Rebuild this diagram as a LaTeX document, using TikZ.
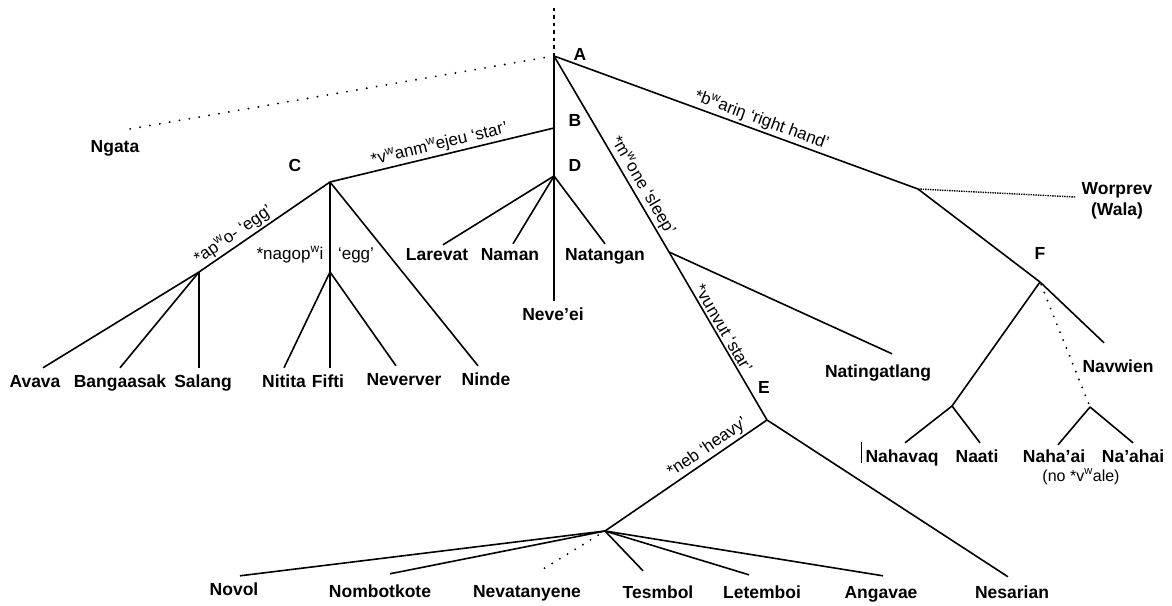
\documentclass[tikz,border=0pt]{standalone}
\usepackage{fontspec}
\setmainfont{Liberation Sans}
\usepackage{tikz}
\newcommand{\wsup}{\textsuperscript{w}}
\tikzset{leaf/.style={font=\bfseries\fontsize{17.5}{17.5}\selectfont, anchor=base,
   inner xsep=1pt, inner ysep=7pt, text height=12pt, text depth=3.5pt},
 letter/.style={font=\bfseries\fontsize{17.5}{17.5}\selectfont, inner sep=0pt},
 gloss/.style={font=\fontsize{17}{17}\selectfont, sloped, above, inner sep=2pt},
 remark/.style={font=\fontsize{17}{17}\selectfont, anchor=base, inner sep=0pt},
 branch/.style={line width=1.6pt},
 dotline/.style={line width=2.1pt, line cap=round, dash pattern=on 0pt off #1},
 dotline/.default=9pt,
 }

\begin{document}
\begin{tikzpicture}[x=1pt,y=-1pt]
        \useasboundingbox (0,0) rectangle (1172,605);
        % junctions
        \coordinate (top) at (554,5);
        \coordinate (A) at (554,56);
        \coordinate (B) at (554,128);
        \coordinate (D) at (554,176);
        \coordinate (C) at (330,182);
        \coordinate (pw) at (199,272);
        \coordinate (ng) at (330,272);
        \coordinate (sl) at (669,252);
        \coordinate (E) at (767,420);
        \coordinate (hv) at (605,531);
        \coordinate (wp) at (918,189);
        \coordinate (F) at (1040,282);
        \coordinate (nq) at (952,406);
        \coordinate (nh) at (1090,407);
        % subgroup letters
        \node[letter] (tA) at (580,54) {A};
        \node[letter] (tB) at (575,120) {B};
        \node[letter] (tC) at (295,165) {C};
        \node[letter] (tD) at (575,165) {D};
        \node[letter] (tE) at (764,387) {E};
        \node[letter] (tF) at (1040,253) {F};
        % languages
        \node[leaf] (Ngata) at (115,152) {Ngata};
        \node[leaf] (Avava) at (35,387) {Avava};
        \node[leaf] (Bangaasak) at (120,387) {Bangaasak};
        \node[leaf] (Salang) at (203,387) {Salang};
        \node[leaf] (Nitita) at (284,387) {Nitita};
        \node[leaf] (Fifti) at (328,387) {Fifti};
        \node[leaf] (Neverver) at (404,385) {Neverver};
        \node[leaf] (Ninde) at (486,385) {Ninde};
        \node[leaf] (Larevat) at (437,260) {Larevat};
        \node[leaf] (Naman) at (510,260) {Naman};
        \node[leaf] (Natangan) at (605,260) {Natangan};
        \node[leaf] (Neveei) at (553,320) {Neve’ei};
        \node[leaf] (Natingatlang) at (878,377) {Natingatlang};
        \node[font=\bfseries\fontsize{17.5}{21}\selectfont, align=center, inner xsep=6pt] (Worprev) at (1117,201) {Worprev\\(Wala)};
        \node[leaf] (Navwien) at (1118,372) {Navwien};
        \node[leaf] (Nahavaq) at (902,462) {Nahavaq};
        \node[leaf] (Naati) at (977,462) {Naati};
        \node[leaf] (Nahaai) at (1054,462) {Naha’ai};
        \node[leaf] (Naahai) at (1133,462) {Na’ahai};
        \node[remark, font=\fontsize{16}{16}\selectfont] (noVwale) at (1081,481) {(no *v\wsup ale)};
        \node[leaf] (Novol) at (234,595) {Novol};
        \node[leaf] (Nombotkote) at (380,597) {Nombotkote};
        \node[leaf] (Nevatanyene) at (527,597) {Nevatanyene};
        \node[leaf] (Tesmbol) at (658,598) {Tesmbol};
        \node[leaf] (Letemboi) at (762,598) {Letemboi};
        \node[leaf] (Angavae) at (881,598) {Angavae};
        \node[leaf] (Nesarian) at (1012,598) {Nesarian};
        \node[remark] (nagopwi) at (290,259) {*nagop\wsup i};
        \node[remark] (eggC) at (356,259) {‘egg’};
        % tree
        \draw [branch, dash pattern=on 3.5pt off 4pt] (A) -- (top);
        \draw [dotline=10pt] (A) -- ([xshift=10pt,yshift=3pt]Ngata.north);
        \draw [branch] (A) -- (A |- Neveei.north);
        \draw [branch] (C) -- node[gloss] (gStar) {*v\wsup anm\wsup ejeu ‘star’} (B);
        \draw [branch] (pw) -- node[gloss, pos=0.31] (gEgg) {*ap\wsup o- ‘egg’} (C);
        \draw [branch] (pw) -- ([xshift=8pt]Avava.north);
        \draw [branch] (pw) -- (Bangaasak.north);
        \draw [branch] (pw) -- (pw |- Salang.north);
        \draw [branch] (C) -- (ng);
        \draw [branch] (ng) -- (Nitita.north);
        \draw [branch] (ng) -- (ng |- Fifti.north);
        \draw [branch] (ng) -- ([xshift=-8pt]Neverver.north);
        \draw [branch] (C) -- ([xshift=-8pt]Ninde.north);
        \draw [branch] (D) -- ([xshift=6pt,yshift=-4pt]Larevat.north);
        \draw [branch] (D) -- ([xshift=3pt,yshift=-3pt]Naman.north);
        \draw [branch] (D) -- ([yshift=-3pt]Natangan.north);
        \draw [branch] (A) -- node[gloss, pos=0.69] (gSleep) {*m\wsup one ‘sleep’} (sl);
        \draw [branch] (sl) -- node[gloss, pos=0.48] (gVunvut) {*vunvut ‘star’} (E);
        \draw [branch] (sl) -- ([xshift=14pt,yshift=4pt]Natingatlang.north);
        \draw [branch] (hv) -- node[gloss, pos=0.67] (gHeavy) {*neb ‘heavy’} (E);
        \draw [branch] (E) -- ([xshift=-4pt,yshift=2pt]Nesarian.north);
        \draw [branch] (hv) -- ([xshift=6pt]Novol.north);
        \draw [branch] (hv) -- ([xshift=10pt,yshift=4pt]Nombotkote.north);
        \draw [dotline, shorten <=8pt] (hv) -- ([xshift=10pt,yshift=5pt]Nevatanyene.north);
        \draw [branch] (hv) -- ([xshift=-15pt,yshift=8pt]Tesmbol.north);
        \draw [branch] (hv) -- ([xshift=-13pt,yshift=4pt]Letemboi.north);
        \draw [branch] (hv) -- ([xshift=2pt,yshift=3pt]Angavae.north);
        \draw [branch] (A) -- node[gloss, pos=0.56] (gHand) {*b\wsup ariŋ ‘right hand’} (wp);
        \draw [branch] (wp) -- (F);
        \draw [densely dotted, line width=1.4pt] (wp) -- ([yshift=4pt]Worprev.west);
        \draw [branch] (F) -- ([xshift=-14pt,yshift=10pt]Navwien.north);
        \draw [branch] (F) -- (nq);
        \draw [branch] (nq) -- ([xshift=3pt]Nahavaq.north);
        \draw [branch] (nq) -- ([xshift=3pt]Naati.north);
        \draw [dotline=8.5pt, shorten <=3pt] (F) -- (nh);
        \draw [branch] (nh) -- ([xshift=4pt,yshift=-2pt]Nahaai.north);
        \draw [branch] (nh) -- (Naahai.north);
        \draw [line width=0.8pt] ([xshift=-3pt,yshift=-1pt]Nahavaq.base west) -- ++(0,-21);
    \end{tikzpicture}
\end{document}
